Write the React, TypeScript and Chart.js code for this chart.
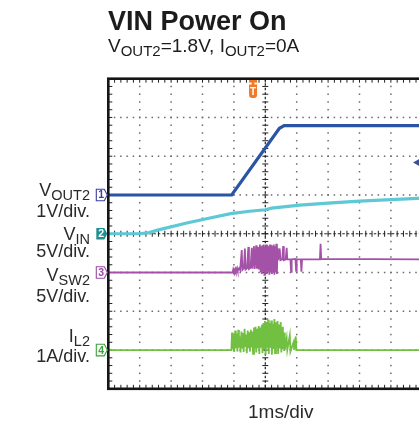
import React, { useEffect, useRef } from "react";
import { Chart, registerables } from "chart.js";
Chart.register(...registerables);

// ---- data (time in ms, values in V or A) ----
const voutTime = [0, 3.93, 5.45, 5.6, 10];
const voutVals = [0, 0, 1.72, 1.79, 1.79];

const vinTime = [0, 1.0, 1.3, 1.6, 2.5, 3.2, 3.9, 4.5, 5.0, 5.2, 6.1, 7.0, 8.0, 9.0, 10];
const vinVals = [0, 0, 0.15, 0.5, 1.38, 2.0, 2.6, 2.9, 3.1, 3.3, 3.7, 3.95, 4.2, 4.4, 4.6];

const vswTime = [
  0, 3.96, 3.98, 4.0, 4.04, 4.06, 4.1, 4.12, 4.17, 4.2,
  4.25, 4.27, 4.32, 4.35, 4.37, 4.42, 4.46, 4.48, 4.53, 4.57, 4.59, 4.64, 4.66, 4.71, 4.73, 4.77, 4.79,
  4.83, 4.85, 4.87, 4.89, 4.91, 4.93, 4.95, 4.97, 4.99, 5.01, 5.03, 5.05, 5.07, 5.09, 5.11, 5.13, 5.15, 5.17,
  5.19, 5.21, 5.23, 5.25, 5.27, 5.29, 5.31, 5.33, 5.35, 5.37, 5.39,
  5.41, 5.46, 5.48, 5.54, 5.57, 5.59, 5.65, 5.68, 5.7, 5.8, 5.82, 5.84, 5.96, 5.98, 6.0, 6.13, 6.15, 6.17,
  6.74, 6.76, 6.78, 10,
];
const vswVals = [
  0, 0, 0.4, 0.15, 0.5, 0.2, 0.6, 0.25, 0.55, 0.3,
  2.9, 0.35, 0.6, 3.1, 0.4, 0.55, 3.3, 0.45, 0.6, 3.2, 0.5, 3.4, 0.45, 3.5, 0.5, 3.3, 0.4,
  3.6, 0.0, 3.4, -0.2, 3.5, 0.2, 3.6, -0.3, 3.3, 0.1, 3.6, -0.2, 3.5, 0.2, 3.4, -0.3, 3.6, 0.0,
  3.5, -0.2, 3.3, 0.1, 3.6, -0.3, 3.4, 0.0, 3.7, -0.2, 3.2,
  1.6, 3.1, 1.6, 1.7, 3.4, 1.6, 1.7, 3.2, 1.7, 1.7, 0.1, 1.7, 1.75, 0.2, 1.7, 1.7, 0.1, 1.7,
  1.7, 3.7, 1.75, 1.7,
];

const ilTime = [
  0, 3.92,
  3.94, 3.96, 3.99, 4.01, 4.04, 4.06, 4.09, 4.11, 4.14, 4.16, 4.19, 4.21, 4.24, 4.26, 4.29, 4.31,
  4.34, 4.36, 4.39, 4.41, 4.44, 4.46, 4.49, 4.51, 4.54, 4.56, 4.59, 4.61, 4.64, 4.66, 4.69, 4.71,
  4.74, 4.76, 4.79, 4.81, 4.84, 4.86, 4.89, 4.91, 4.94, 4.96, 4.99, 5.01, 5.04, 5.06, 5.09, 5.11,
  5.14, 5.16, 5.19, 5.21, 5.24, 5.26, 5.29, 5.31, 5.34, 5.36, 5.39, 5.41, 5.44, 5.46, 5.49, 5.51,
  5.54, 5.56, 5.6, 5.62, 5.68, 5.7, 5.78, 5.8, 5.9, 5.92, 5.97, 5.99, 10,
];
const ilVals = [
  0, 0,
  0.45, 0.02, 0.38, -0.05, 0.5, 0.05, 0.42, -0.04, 0.52, 0.06, 0.35, -0.06, 0.48, 0.04, 0.44, -0.05,
  0.55, 0.08, 0.4, -0.08, 0.5, 0.05, 0.46, -0.04, 0.52, 0.07, 0.48, -0.1, 0.58, 0.04, 0.6, -0.06,
  0.55, 0.05, 0.62, -0.1, 0.58, 0.06, 0.65, -0.08, 0.7, 0.04, 0.75, -0.12, 0.72, 0.05, 0.78, -0.1,
  0.7, 0.06, 0.76, -0.12, 0.68, 0.03, 0.8, -0.08, 0.72, 0.05, 0.75, -0.1, 0.66, 0.04, 0.72, -0.06,
  0.6, 0.02, 0.45, 0.0, 0.3, 0.0, 0.38, -0.04, 0.2, 0.0, 0.35, 0.0, 0,
];

// ---- scope settings ----
const timeDivs = 10;
const vertDivs = 8;
const msPerDiv = 1;
const triggerTime = 4.61;
const triggerLevelDiv = 5.84;

const channels = [
  { name: "VOUT2", time: voutTime, vals: voutVals, perDiv: 1, ground: 5, color: "#2a55a5", width: 3.2, marker: "1", markerColor: "#3b3f9a", filled: false },
  { name: "VIN", time: vinTime, vals: vinVals, perDiv: 5, ground: 4, color: "#5ec8d6", width: 3.2, marker: "2", markerColor: "#1f8f8f", filled: true },
  { name: "VSW2", time: vswTime, vals: vswVals, perDiv: 5, ground: 3, color: "#a452a8", width: 1.8, marker: "3", markerColor: "#9b4aa5", filled: false },
  { name: "IL2", time: ilTime, vals: ilVals, perDiv: 1, ground: 1, color: "#72c042", width: 1.8, marker: "4", markerColor: "#3ca03c", filled: false },
];

type Seg = { t: string; sub?: boolean };
const titleText = "VIN Power On";
const subtitleSegs: Seg[] = [
  { t: "V" }, { t: "OUT2", sub: true }, { t: "=1.8V, I" }, { t: "OUT2", sub: true }, { t: "=0A" },
];
const sideLabels: { segs: Seg[]; y: number }[] = [
  { segs: [{ t: "V" }, { t: "OUT2", sub: true }], y: 196 },
  { segs: [{ t: "1V/div." }], y: 216.5 },
  { segs: [{ t: "V" }, { t: "IN", sub: true }], y: 240 },
  { segs: [{ t: "5V/div." }], y: 256.5 },
  { segs: [{ t: "V" }, { t: "SW2", sub: true }], y: 281 },
  { segs: [{ t: "5V/div." }], y: 302 },
  { segs: [{ t: "I" }, { t: "L2", sub: true }], y: 342 },
  { segs: [{ t: "1A/div." }], y: 361.5 },
];
const xLabel = "1ms/div";

const FONT = '"Liberation Sans", Arial, Helvetica, sans-serif';

function drawRich(ctx: CanvasRenderingContext2D, segs: Seg[], x: number, y: number, size: number, subSize: number, align: "left" | "right", bold = false) {
  const f = (s: number) => `${bold ? "bold " : ""}${s}px ${FONT}`;
  let w = 0;
  for (const s of segs) {
    ctx.font = f(s.sub ? subSize : size);
    w += ctx.measureText(s.t).width;
  }
  let cx = align === "right" ? x - w : x;
  ctx.textAlign = "left";
  ctx.textBaseline = "alphabetic";
  for (const s of segs) {
    ctx.font = f(s.sub ? subSize : size);
    ctx.fillText(s.t, cx, s.sub ? y + 4 : y);
    cx += ctx.measureText(s.t).width;
  }
}

const scopePlugin = {
  id: "scope",
  beforeDatasetsDraw(chart: any) {
    const { ctx, chartArea: a } = chart;
    const dx = (a.right - a.left) / timeDivs;
    const dy = (a.bottom - a.top) / vertDivs;
    ctx.save();
    ctx.fillStyle = "#6a6a6a";
    for (let i = 1; i < timeDivs; i++) {
      if (i === timeDivs / 2) continue;
      const x = a.left + i * dx;
      for (let k = 1; k < vertDivs * 5; k++) {
        const y = a.top + (k * dy) / 5;
        ctx.fillRect(x - 0.75, y - 0.75, 1.5, 1.5);
      }
    }
    for (let j = 1; j < vertDivs; j++) {
      if (j === vertDivs / 2) continue;
      const y = a.top + j * dy;
      for (let k = 1; k < timeDivs * 5; k++) {
        const x = a.left + (k * dx) / 5;
        ctx.fillRect(x - 0.75, y - 0.75, 1.5, 1.5);
      }
    }
    ctx.strokeStyle = "#222";
    ctx.lineWidth = 1.2;
    const cxl = a.left + (timeDivs / 2) * dx;
    const cyl = a.top + (vertDivs / 2) * dy;
    ctx.setLineDash([2.5, 2]);
    ctx.beginPath();
    ctx.moveTo(cxl, a.top);
    ctx.lineTo(cxl, a.bottom);
    ctx.moveTo(a.left, cyl);
    ctx.lineTo(a.right, cyl);
    ctx.stroke();
    ctx.setLineDash([]);
    ctx.lineWidth = 1;
    ctx.beginPath();
    for (let k = 1; k < vertDivs * 5; k++) {
      const y = a.top + (k * dy) / 5;
      ctx.moveTo(cxl - 3, y);
      ctx.lineTo(cxl + 3, y);
      ctx.moveTo(a.left, y);
      ctx.lineTo(a.left + 4, y);
    }
    for (let k = 1; k < timeDivs * 5; k++) {
      const x = a.left + (k * dx) / 5;
      ctx.moveTo(x, cyl - 3);
      ctx.lineTo(x, cyl + 3);
      ctx.moveTo(x, a.top);
      ctx.lineTo(x, a.top + 4);
      ctx.moveTo(x, a.bottom);
      ctx.lineTo(x, a.bottom - 4);
    }
    ctx.stroke();
    ctx.restore();
  },
  afterDatasetsDraw(chart: any) {
    const { ctx, chartArea: a } = chart;
    const dx = (a.right - a.left) / timeDivs;
    const dy = (a.bottom - a.top) / vertDivs;
    ctx.save();
    ctx.strokeStyle = "#151515";
    ctx.lineWidth = 2.6;
    ctx.strokeRect(a.left, a.top, a.right - a.left, a.bottom - a.top);

    channels.forEach((c) => {
      const yc = a.bottom - c.ground * dy;
      const x0 = a.left - 12;
      const hh = 5.8;
      ctx.beginPath();
      ctx.moveTo(x0, yc - hh);
      ctx.lineTo(x0 + 8, yc - hh);
      ctx.lineTo(x0 + 11, yc);
      ctx.lineTo(x0 + 8, yc + hh);
      ctx.lineTo(x0, yc + hh);
      ctx.closePath();
      if (c.filled) {
        ctx.fillStyle = c.markerColor;
        ctx.fill();
        ctx.fillStyle = "#fff";
      } else {
        ctx.fillStyle = "#fff";
        ctx.fill();
        ctx.strokeStyle = c.markerColor;
        ctx.lineWidth = 1.1;
        ctx.stroke();
        ctx.fillStyle = c.markerColor;
      }
      ctx.font = `bold 10.5px ${FONT}`;
      ctx.textAlign = "center";
      ctx.textBaseline = "middle";
      ctx.fillText(c.marker, x0 + 4.8, yc + 0.6);
    });

    const tx = a.left + (triggerTime / msPerDiv) * dx;
    ctx.fillStyle = "#f07a28";
    ctx.fillRect(tx - 4, a.top + 1.3, 8, 2.6);
    ctx.fillRect(tx - 1.4, a.top + 3.6, 2.8, 2.6);
    ctx.beginPath();
    const bx = tx - 4, by = a.top + 5.8, bw = 8, bh = 13.5, r = 3;
    ctx.moveTo(bx, by);
    ctx.lineTo(bx + bw, by);
    ctx.lineTo(bx + bw, by + bh - r);
    ctx.quadraticCurveTo(bx + bw, by + bh, bx + bw - r, by + bh);
    ctx.lineTo(bx + r, by + bh);
    ctx.quadraticCurveTo(bx, by + bh, bx, by + bh - r);
    ctx.closePath();
    ctx.fill();
    ctx.fillStyle = "#fff";
    ctx.font = `bold 10px ${FONT}`;
    ctx.textAlign = "center";
    ctx.textBaseline = "middle";
    ctx.fillText("T", tx, by + bh / 2 + 0.5);

    const ty = a.bottom - triggerLevelDiv * dy;
    ctx.fillStyle = "#3a4f9e";
    ctx.beginPath();
    ctx.moveTo(413, ty);
    ctx.lineTo(421, ty - 4.5);
    ctx.lineTo(421, ty + 4.5);
    ctx.closePath();
    ctx.fill();

    ctx.fillStyle = "#1c1c1c";
    ctx.font = `bold 27px ${FONT}`;
    ctx.textAlign = "left";
    ctx.textBaseline = "alphabetic";
    ctx.fillText(titleText, 108, 30);
    drawRich(ctx, subtitleSegs, 108, 52, 19, 15, "left");

    ctx.fillStyle = "#2a2a2a";
    sideLabels.forEach((l) => drawRich(ctx, l.segs, 90, l.y, 18, 14.5, "right"));

    ctx.font = `19px ${FONT}`;
    ctx.textAlign = "left";
    ctx.fillText(xLabel, 248, 418);
    ctx.restore();
  },
};

export default function App() {
  const ref = useRef<HTMLCanvasElement | null>(null);
  useEffect(() => {
    if (!ref.current) return;
    const W = 431, H = 421;
    const left = 108.3, top = 78.7, right = 422.3, bottom = 388.8;
    const chart = new Chart(ref.current, {
      type: "line",
      data: {
        datasets: channels.map((c) => ({
          label: c.name,
          data: c.time.map((t, i) => ({ x: t / msPerDiv, y: c.ground + c.vals[i] / c.perDiv })),
          borderColor: c.color,
          backgroundColor: c.color,
          borderWidth: c.width,
          pointRadius: 0,
          tension: 0,
          fill: false,
        })),
      },
      options: {
        responsive: false,
        animation: false,
        devicePixelRatio: 1,
        events: [],
        layout: { padding: { left, top, right: W - right, bottom: H - bottom } },
        plugins: { legend: { display: false }, tooltip: { enabled: false }, title: { display: false } },
        scales: {
          x: { type: "linear", min: 0, max: timeDivs, display: false },
          y: { type: "linear", min: 0, max: vertDivs, display: false },
        },
      },
      plugins: [scopePlugin],
    });
    return () => chart.destroy();
  }, []);
  return (
    <div style={{ position: "fixed", left: 0, top: 0, width: 419, height: 421, overflow: "hidden", background: "#fff" }}>
      <canvas ref={ref} width={431} height={421} style={{ width: 431, height: 421, display: "block" }} />
    </div>
  );
}
